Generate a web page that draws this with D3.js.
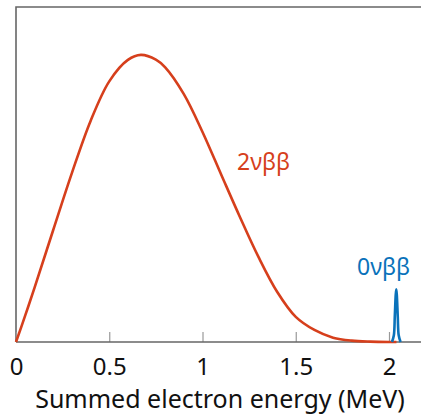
<!DOCTYPE html>
<html>
<head>
<meta charset="utf-8">
<script src="https://cdn.jsdelivr.net/npm/d3@7"></script>
<style>
  html, body { margin: 0; padding: 0; background: #fff; }
  svg { display: block; font-family: "Noto Sans", "Open Sans", sans-serif; }
</style>
</head>
<body>
<div id="chart"></div>
<script>
// energies in MeV, rates in arbitrary units (frame top = 1)
var twoNuEnergy = [0, 0.05, 0.1, 0.2, 0.3, 0.4, 0.5, 0.6, 0.67, 0.75, 0.8, 0.9, 1.0, 1.1, 1.2, 1.3, 1.4, 1.5, 1.6, 1.7, 1.8, 1.9, 2.0, 2.04];
var twoNuRate   = [0, 0.08, 0.163, 0.335, 0.505, 0.66, 0.778, 0.842, 0.857, 0.843, 0.82, 0.74, 0.627, 0.5, 0.374, 0.254, 0.15, 0.075, 0.036, 0.013, 0.004, 0.001, 0, 0];
var zeroNuEnergy = [2.016, 2.026, 2.031, 2.036, 2.039, 2.042, 2.047, 2.052, 2.062];
var zeroNuRate   = [0, 0.02, 0.075, 0.14, 0.157, 0.14, 0.075, 0.02, 0];
var xTicks = [0, 0.5, 1, 1.5, 2];
var xTickLabels = ["0", "0.5", "1", "1.5", "2"];
var xTitle = "Summed electron energy (MeV)";

(function () {
  var width = 421, height = 416;
  var margin = { top: 7, left: 16, bottom: 74 };
  var pxPerMeV = 186.5;

  var svg = d3.select("#chart").append("svg")
    .attr("width", width).attr("height", height);

  var x = d3.scaleLinear().domain([0, 2.2]).range([margin.left, margin.left + 2.2 * pxPerMeV]);
  var y = d3.scaleLinear().domain([0, 1]).range([height - margin.bottom, margin.top]);

  var y0 = y(0);

  // frame: left + top
  svg.append("path")
    .attr("d", "M" + x(0) + "," + y0 + "V" + y(1) + "H" + (width + 5))
    .attr("fill", "none").attr("stroke", "#666").attr("stroke-width", 1.6);

  // x axis, ticks inside
  var xAxis = d3.axisBottom(x)
    .tickValues(xTicks)
    .tickSize(-10)
    .tickPadding(16)
    .tickFormat(function (d, i) { return xTickLabels[i]; });
  var xAxisG = svg.append("g").attr("transform", "translate(0," + y0 + ")").call(xAxis);
  xAxisG.select(".domain").remove();
  xAxisG.selectAll(".tick line").attr("stroke", "#999").attr("stroke-width", 1.2);
  xAxisG.selectAll(".tick text")
    .attr("fill", "#111").attr("font-size", 24).attr("font-family", "Noto Sans, sans-serif");
  svg.append("line")
    .attr("x1", x(0)).attr("x2", width + 5).attr("y1", y0).attr("y2", y0)
    .attr("stroke", "#666").attr("stroke-width", 1.6);

  svg.append("text")
    .attr("x", 220).attr("y", 408)
    .attr("text-anchor", "middle")
    .attr("font-size", 25).attr("fill", "#111")
    .text(xTitle);

  var line = d3.line()
    .x(function (d) { return x(d[0]); })
    .y(function (d) { return y(d[1]); })
    .curve(d3.curveCatmullRom.alpha(0.5));

  var twoNu = twoNuEnergy.map(function (e, i) { return [e, twoNuRate[i]]; });
  var zeroNu = zeroNuEnergy.map(function (e, i) { return [e, zeroNuRate[i]]; });

  svg.append("path").datum(twoNu)
    .attr("d", line).attr("fill", "none")
    .attr("stroke", "#D63F1C").attr("stroke-width", 2.6);
  svg.append("path").datum(zeroNu)
    .attr("d", line).attr("fill", "none")
    .attr("stroke", "#0A72BA").attr("stroke-width", 2.6);

  svg.append("text")
    .attr("x", 237).attr("y", 170)
    .attr("font-size", 23).attr("fill", "#D63F1C")
    .text("2νββ");
  svg.append("text")
    .attr("x", 357).attr("y", 275)
    .attr("font-size", 23).attr("fill", "#0A72BA")
    .text("0νββ");
})();
</script>
</body>
</html>
